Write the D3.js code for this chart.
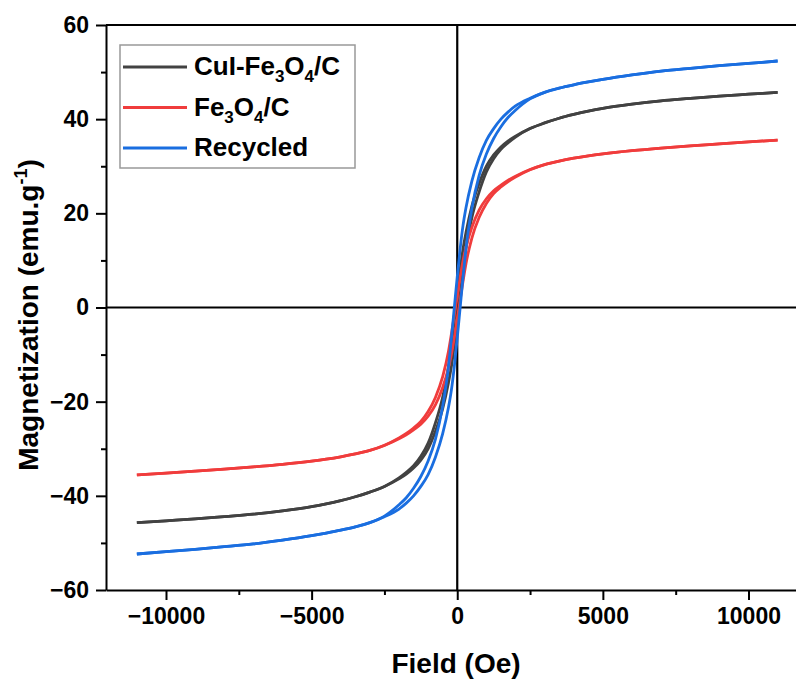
<!DOCTYPE html>
<html>
<head>
<meta charset="utf-8">
<script src="https://cdn.jsdelivr.net/npm/d3@7"></script>
<style>
  body { margin: 0; background: #fff; }
  text { font-family: Arial, "Liberation Sans", sans-serif; font-weight: bold; }
</style>
</head>
<body>
<div id="chart"></div>
<script>
// data (field in Oe, magnetization in emu/g)
const field = [-11000,-10000,-9000,-8000,-7000,-6000,-5000,-4500,-4000,-3500,-3000,-2500,
  -2000,-1750,-1500,-1250,-1000,-750,-500,-300,-200,-100,0,100,200,300,500,750,1000,
  1250,1500,1750,2000,2500,3000,3500,4000,4500,5000,6000,7000,8000,9000,10000,11000];

// descending-field branch / ascending-field branch
const cuiDown = [-45.7,-45.3,-44.9,-44.4,-43.9,-43.2,-42.3,-41.7,-41.0,-40.2,-39.2,-38.0,
  -36.2,-35.0,-33.6,-31.6,-28.8,-24.5,-19.0,-12.5,-8.0,-2.8,2.8,8.0,12.5,15.9,21.5,26.3,30.0,
  32.4,34.1,35.4,36.4,38.0,39.2,40.2,41.0,41.7,42.3,43.2,43.9,44.4,44.9,45.3,45.7];
const cuiUp = [-45.7,-45.3,-44.9,-44.4,-43.9,-43.2,-42.3,-41.7,-41.0,-40.2,-39.2,-38.0,
  -36.4,-35.4,-34.1,-32.4,-30.0,-26.3,-21.5,-15.9,-12.5,-8.0,-2.8,2.8,8.0,12.5,19.0,24.5,28.8,
  31.6,33.6,35.0,36.2,38.0,39.2,40.2,41.0,41.7,42.3,43.2,43.9,44.4,44.9,45.3,45.7];

const feDown = [-35.57,-35.17,-34.75,-34.32,-33.85,-33.3,-32.62,-32.2,-31.7,-31.1,-30.35,-29.25,
  -27.7,-26.75,-25.6,-24.2,-22.1,-19.1,-14.7,-9.3,-5.6,-1.6,2.4,6.4,10.0,12.8,17.0,20.7,23.1,
  24.8,26.0,27.05,27.9,29.3,30.35,31.1,31.7,32.2,32.62,33.3,33.85,34.32,34.75,35.17,35.57];
const feUp = [-35.57,-35.17,-34.75,-34.32,-33.85,-33.3,-32.62,-32.2,-31.7,-31.1,-30.35,-29.3,
  -27.9,-27.05,-26.0,-24.8,-23.1,-20.7,-17.0,-12.8,-10.0,-6.4,-2.4,1.6,5.6,9.3,14.7,19.1,22.1,
  24.2,25.6,26.75,27.7,29.25,30.35,31.1,31.7,32.2,32.62,33.3,33.85,34.32,34.75,35.17,35.57];

const recDown = [-52.35,-51.85,-51.35,-50.8,-50.2,-49.4,-48.45,-47.9,-47.3,-46.6,-45.7,-44.3,
  -41.9,-40.4,-38.4,-35.9,-32.6,-28.0,-21.0,-12.5,-6.5,0,6.5,12.5,17.5,21.2,26.8,31.8,35.5,
  38.0,40.0,41.55,42.8,44.45,45.7,46.6,47.3,47.9,48.45,49.4,50.2,50.8,51.35,51.85,52.35];
const recUp = [-52.35,-51.85,-51.35,-50.8,-50.2,-49.4,-48.45,-47.9,-47.3,-46.6,-45.7,-44.45,
  -42.8,-41.55,-40.0,-38.0,-35.5,-31.8,-26.8,-21.2,-17.5,-12.5,-6.5,0,6.5,12.5,21.0,28.0,32.6,
  35.9,38.4,40.4,41.9,44.3,45.7,46.6,47.3,47.9,48.45,49.4,50.2,50.8,51.35,51.85,52.35];

const xTicks = [-10000, -5000, 0, 5000, 10000];
const xMinor = [-7500, -2500, 2500, 7500];
const yTicks = [-60, -40, -20, 0, 20, 40, 60];
const yMinor = [-50, -30, -10, 10, 30, 50];

const series = [
  { label: [["CuI-Fe"], ["3", 1], ["O"], ["4", 1], ["/C"]], color: "#424242", down: cuiDown, up: cuiUp },
  { label: [["Fe"], ["3", 1], ["O"], ["4", 1], ["/C"]], color: "#f03c3c", down: feDown, up: feUp },
  { label: [["Recycled"]], color: "#1a6ee0", down: recDown, up: recUp }
];

// SVG setup
const W = 796, H = 681;
const svg = d3.select("#chart").append("svg")
  .attr("width", W).attr("height", H);

const x = d3.scaleLinear().domain([-12060, 11700]).range([106, 798]);
const y = d3.scaleLinear().domain([-60, 60]).range([590, 25]);

// zero lines
svg.append("line")
  .attr("x1", x(0)).attr("x2", x(0)).attr("y1", y(60)).attr("y2", y(-60))
  .attr("stroke", "#000").attr("stroke-width", 2.2);
svg.append("line")
  .attr("x1", x.range()[0]).attr("x2", x.range()[1]).attr("y1", y(0)).attr("y2", y(0))
  .attr("stroke", "#000").attr("stroke-width", 2.2);

// curves
const line = d3.line()
  .x(d => x(d[0]))
  .y(d => y(d[1]))
  .curve(d3.curveMonotoneX);

series.forEach(s => {
  [s.down, s.up].forEach(branch => {
    svg.append("path")
      .datum(field.map((f, i) => [f, branch[i]]))
      .attr("fill", "none")
      .attr("stroke", s.color)
      .attr("stroke-width", 2.8)
      .attr("d", line);
  });
});

// axes
const fmt = d => d < 0 ? "\u2212" + Math.abs(d) : String(d);

function styleAxis(g) {
  g.selectAll("path, line").attr("stroke", "#000").attr("stroke-width", 2);
  g.selectAll("text").attr("font-size", 23).attr("fill", "#000")
    .style("font-family", "Arial, 'Liberation Sans', sans-serif").style("font-weight", "bold");
}

svg.append("g")
  .attr("transform", `translate(0,${y(-60)})`)
  .call(d3.axisBottom(x).tickValues(xTicks).tickFormat(fmt).tickSize(10).tickSizeOuter(0).tickPadding(8))
  .call(styleAxis);
svg.append("g")
  .attr("transform", `translate(0,${y(-60)})`)
  .call(d3.axisBottom(x).tickValues(xMinor).tickSize(5).tickFormat(""))
  .call(g => g.select(".domain").remove())
  .call(styleAxis);

svg.append("g")
  .attr("transform", `translate(${x.range()[0]},0)`)
  .call(d3.axisLeft(y).tickValues(yTicks).tickFormat(fmt).tickSize(10).tickSizeOuter(0).tickPadding(7))
  .call(styleAxis);
svg.append("g")
  .attr("transform", `translate(${x.range()[0]},0)`)
  .call(d3.axisLeft(y).tickValues(yMinor).tickSize(5).tickFormat(""))
  .call(g => g.select(".domain").remove())
  .call(styleAxis);

// top frame
svg.append("line")
  .attr("x1", x.range()[0]).attr("x2", x.range()[1]).attr("y1", y(60)).attr("y2", y(60))
  .attr("stroke", "#000").attr("stroke-width", 2);

// axis titles
svg.append("text")
  .attr("x", 456).attr("y", 673)
  .attr("text-anchor", "middle").attr("font-size", 28)
  .text("Field (Oe)");

const yt = svg.append("text")
  .attr("transform", "translate(38,315) rotate(-90)")
  .attr("text-anchor", "middle").attr("font-size", 28);
yt.append("tspan").text("Magnetization (emu.g");
yt.append("tspan").attr("font-size", 18).attr("dy", -11).text("-1");
yt.append("tspan").attr("dy", 11).text(")");

// legend
const lg = svg.append("g");
lg.append("rect")
  .attr("x", 120).attr("y", 45).attr("width", 235).attr("height", 123)
  .attr("fill", "#fff").attr("stroke", "#999").attr("stroke-width", 1.5);

series.forEach((s, i) => {
  const cy = 67 + i * 40.5;
  lg.append("line")
    .attr("x1", 123).attr("x2", 187).attr("y1", cy).attr("y2", cy)
    .attr("stroke", s.color).attr("stroke-width", 2.8);
  const t = lg.append("text")
    .attr("x", 194).attr("y", cy + 8).attr("font-size", 26);
  let lastSub = false;
  s.label.forEach(([txt, sub]) => {
    if (sub) {
      t.append("tspan").attr("font-size", 17).attr("dy", 7).text(txt);
    } else {
      t.append("tspan").attr("dy", lastSub ? -7 : 0).text(txt);
    }
    lastSub = !!sub;
  });
});
</script>
</body>
</html>
